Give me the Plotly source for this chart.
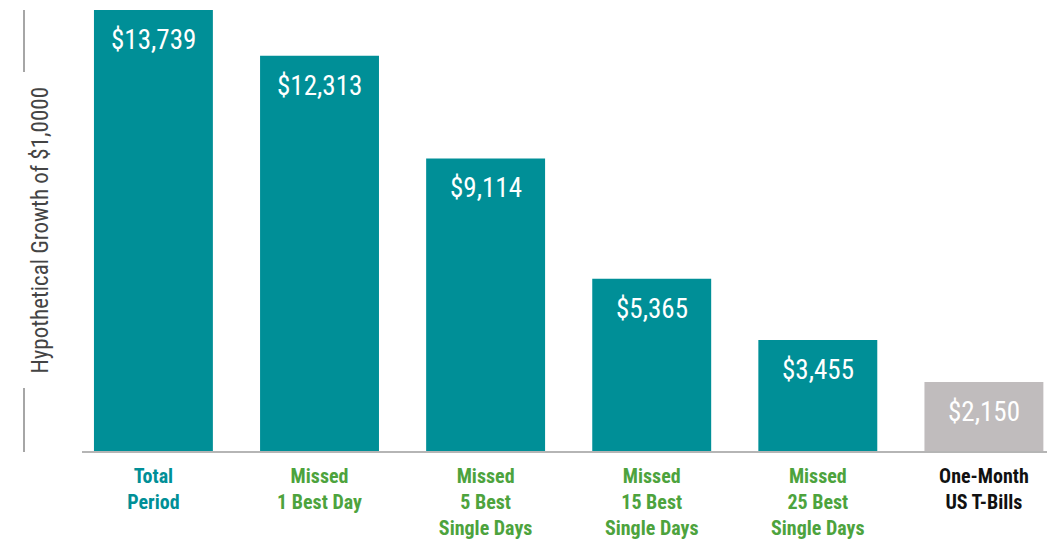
import plotly.graph_objects as go

categories = ["Total Period", "Missed 1 Best Day", "Missed 5 Best Single Days",
              "Missed 15 Best Single Days", "Missed 25 Best Single Days", "One-Month US T-Bills"]
tick_labels = ["Total<br>Period", "Missed<br>1 Best Day", "Missed<br>5 Best<br>Single Days",
               "Missed<br>15 Best<br>Single Days", "Missed<br>25 Best<br>Single Days",
               "One-Month<br>US T-Bills"]
values = [13739, 12313, 9114, 5365, 3455, 2150]
value_labels = ["$13,739", "$12,313", "$9,114", "$5,365", "$3,455", "$2,150"]

TEAL = "#008F97"
GRAY = "#C0BCBD"
GREEN = "#4DA33D"
bar_colors = [TEAL] * 5 + [GRAY]
tick_colors = [TEAL, GREEN, GREEN, GREEN, GREEN, "#111111"]
FONT = "Liberation Sans Narrow, Roboto Condensed, Roboto, sans-serif"

x = list(range(len(categories)))
fig = go.Figure(go.Bar(x=x, y=values, marker=dict(color=bar_colors, line=dict(width=0)),
                       width=0.716, hoverinfo="skip"))

for xi, v, lab in zip(x, values, value_labels):
    fig.add_annotation(x=xi, y=v, text=lab, showarrow=False, yanchor="top", yshift=-12,
                       font=dict(family=FONT, size=27, color="white"))

ticktext = [f"<span style='color:{c}'><b>{t}</b></span>" for t, c in zip(tick_labels, tick_colors)]

# page body has an 8px margin; figure sized to fill the rest of the window
L, R, T, B = 74, 0, 0, 101
W, H = 1047, 544
pw = W - L - R
ph = H - B - T

fig.update_layout(
    width=W, height=H, margin=dict(l=L, r=R, t=T, b=B, autoexpand=False),
    plot_bgcolor="white", paper_bgcolor="white", showlegend=False,
    xaxis=dict(range=[-0.43, 5.428], tickmode="array", tickvals=x, ticktext=ticktext,
               showgrid=False, zeroline=False, showline=True, linecolor="#B5B5B5", linewidth=2,
               ticks="", tickfont=dict(family=FONT, size=20), ticklabelstandoff=6,
               automargin=False),
    yaxis=dict(range=[0, 13801], visible=False, automargin=False),
)

# y-axis title with lines
xt = (16 - L) / pw
fig.add_annotation(xref="paper", yref="paper", x=xt, y=1 - 222 / ph,
                   text="Hypothetical Growth of $1,0000", textangle=-90, showarrow=False,
                   font=dict(family=FONT, size=23, color="#444444"))
fig.add_shape(type="line", xref="paper", yref="paper", x0=xt, x1=xt, y0=1 - 2 / ph, y1=1 - 64 / ph,
              line=dict(color="#888888", width=1.5))
fig.add_shape(type="line", xref="paper", yref="paper", x0=xt, x1=xt, y0=1 - 380 / ph, y1=1 - 444 / ph,
              line=dict(color="#888888", width=1.5))

fig.write_html("out.html")
